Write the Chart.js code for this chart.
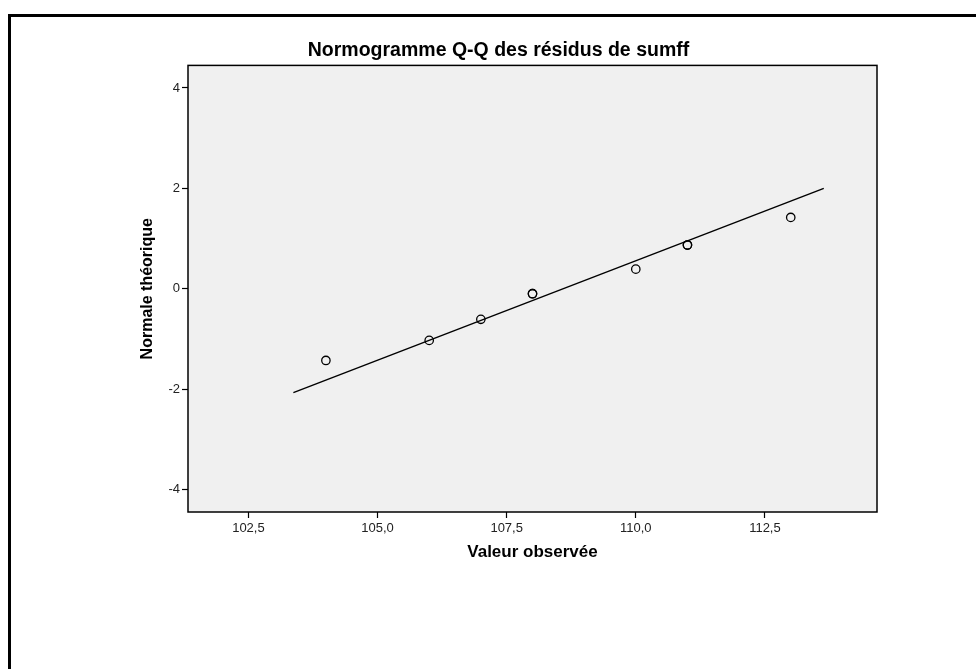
<!DOCTYPE html>
<html>
<head>
  <meta charset="utf-8">
  <title>Normogramme Q-Q des résidus de sumff</title>
  <script src="https://cdn.jsdelivr.net/npm/chart.js"></script>
  <style>
    html, body {
      margin: 0;
      padding: 0;
      background: #fff;
      overflow: hidden;
    }
    /* cadre extérieur de la sortie */
    #frame {
      position: absolute;
      left: 8px;
      top: 14px;
      width: 2000px;
      height: 2000px;
      border: 3px solid #000;
    }
    #qqChart {
      position: absolute;
      left: 0;
      top: 0;
    }
  </style>
</head>
<body>
<div id="frame"></div>
<canvas id="qqChart" width="976" height="669"></canvas>

<script>
  const observed = [104, 106, 107, 108, 108, 110, 111, 111, 113];
  const expected = [-1.43, -1.03, -0.61, -0.10, -0.10, 0.39, 0.87, 0.87, 1.42];

  // droite de référence
  const lineX = [103.37, 113.64];
  const lineY = [-2.07, 2.00];

  // graduations
  const xTicks = [102.5, 105, 107.5, 110, 112.5];
  const yTicks = [-4, -2, 0, 2, 4];

  const FONT = '"Liberation Sans", Arial, sans-serif';

  const plotBox = {
    id: 'plotBox',
    beforeDraw(chart) {
      const a = chart.chartArea;
      const ctx = chart.ctx;
      ctx.save();
      ctx.fillStyle = '#f0f0f0';
      ctx.fillRect(a.left, a.top, a.right - a.left, a.bottom - a.top);
      ctx.restore();
    },
    afterDraw(chart) {
      const a = chart.chartArea;
      const ctx = chart.ctx;
      ctx.save();
      ctx.strokeStyle = '#000';
      ctx.lineWidth = 1.5;
      ctx.strokeRect(a.left, a.top, a.right - a.left, a.bottom - a.top);
      ctx.restore();
    }
  };

  const pointData = observed.map((x, i) => ({x: x, y: expected[i]}));
  const lineData = lineX.map((x, i) => ({x: x, y: lineY[i]}));

  const ctx = document.getElementById('qqChart').getContext('2d');
  new Chart(ctx, {
    type: 'scatter',
    data: {
      datasets: [
        {
          label: 'Observé',
          data: pointData,
          showLine: false,
          pointRadius: 4.2,
          pointBorderWidth: 1.3,
          pointBorderColor: '#000',
          pointBackgroundColor: 'rgba(0,0,0,0)'
        },
        {
          label: 'Droite',
          data: lineData,
          showLine: true,
          borderColor: '#000',
          borderWidth: 1.4,
          pointRadius: 0
        }
      ]
    },
    options: {
      responsive: false,
      animation: false,
      layout: {
        padding: {left: 120, right: 99, top: 30, bottom: 97}
      },
      plugins: {
        legend: {display: false},
        tooltip: {enabled: false},
        title: {
          display: true,
          text: 'Normogramme Q-Q des résidus de sumff',
          color: '#000',
          font: {family: FONT, size: 19.5, weight: 'bold'},
          padding: {top: 9, bottom: 3}
        }
      },
      scales: {
        x: {
          type: 'linear',
          min: 101.33,
          max: 114.67,
          afterBuildTicks(scale) {
            scale.ticks = xTicks.map(v => ({value: v}));
          },
          afterFit(scale) {
            scale.height = 60;
          },
          grid: {
            drawOnChartArea: false,
            drawTicks: true,
            tickLength: 6,
            tickColor: '#000',
            tickWidth: 1.2
          },
          border: {display: false},
          ticks: {
            padding: 3,
            color: '#222',
            font: {family: FONT, size: 13},
            callback: v => v.toFixed(1).replace('.', ',')
          },
          title: {
            display: true,
            text: 'Valeur observée',
            color: '#000',
            font: {family: FONT, size: 17, weight: 'bold'},
            padding: {top: 0, bottom: 9}
          }
        },
        y: {
          type: 'linear',
          min: -4.45,
          max: 4.45,
          afterBuildTicks(scale) {
            scale.ticks = yTicks.map(v => ({value: v}));
          },
          afterFit(scale) {
            scale.width = 68;
          },
          grid: {
            drawOnChartArea: false,
            drawTicks: true,
            tickLength: 6,
            tickColor: '#000',
            tickWidth: 1.2
          },
          border: {display: false},
          ticks: {
            padding: 2,
            color: '#222',
            font: {family: FONT, size: 13},
            callback: v => String(v)
          },
          title: {
            display: true,
            text: 'Normale théorique',
            color: '#000',
            font: {family: FONT, size: 16, weight: 'bold'},
            padding: {top: 18, bottom: 0}
          }
        }
      }
    },
    plugins: [plotBox]
  });
</script>
</body>
</html>
